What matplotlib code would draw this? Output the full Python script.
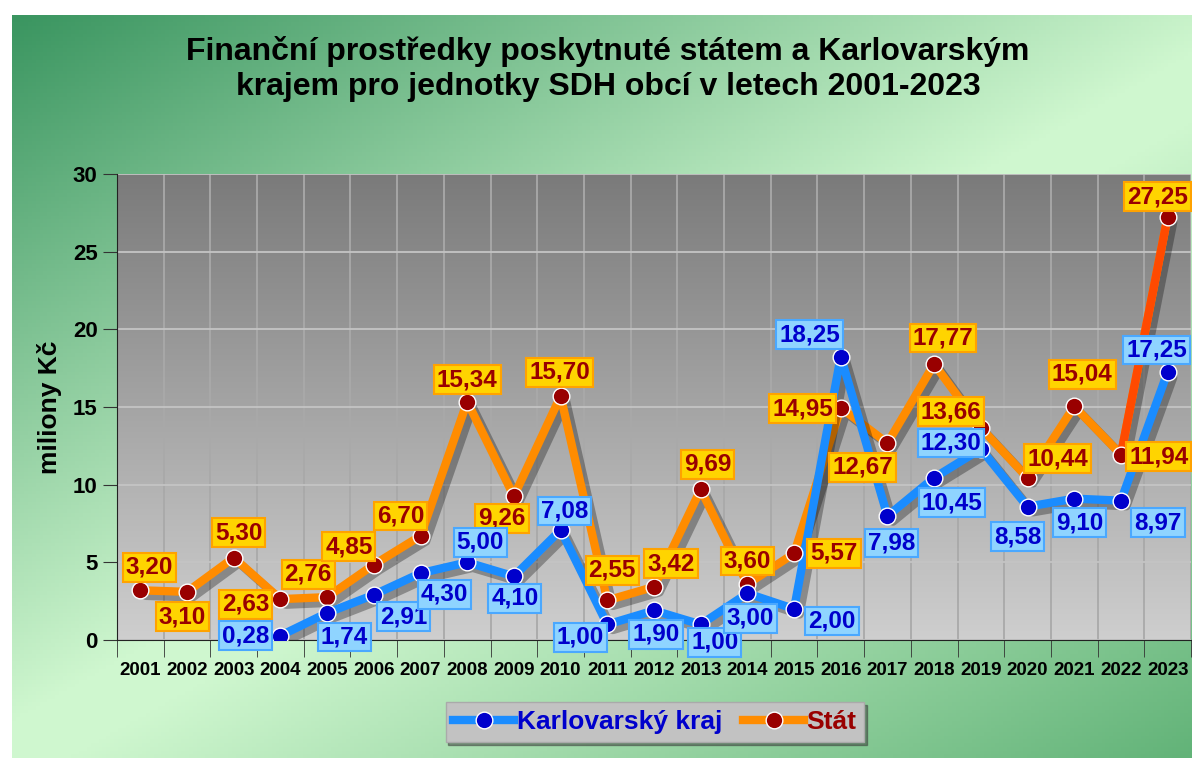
import numpy as np
import matplotlib
matplotlib.use("Agg")
from matplotlib import pyplot as plt
from matplotlib import patheffects as pe
from matplotlib.lines import Line2D

years = list(range(2001, 2024))
stat = [3.20, 3.10, 5.30, 2.63, 2.76, 4.85, 6.70, 15.34, 9.26, 15.70, 2.55, 3.42,
        9.69, 3.60, 5.57, 14.95, 12.67, 17.77, 13.66, 10.44, 15.04, 11.94, 27.25]
kv_years = list(range(2004, 2024))
kraj = [0.28, 1.74, 2.91, 4.30, 5.00, 4.10, 7.08, 1.00, 1.90, 1.00, 3.00, 2.00,
        18.25, 7.98, 10.45, 12.30, 8.58, 9.10, 8.97, 17.25]

# label offsets in pixels (dx, dy) from the point
stat_off = [(9, 23), (-5, -25), (5, 25), (-35, -5), (-19, 23), (-25, 18), (-20, 20),
            (0, 22), (-12, -22), (-1, 24), (5, 30), (17, 23), (7, 25), (0, 23),
            (40, 0), (-38, -1), (-25, -24), (9, 26), (-30, 16), (30, 19), (8, 32),
            (38, -2), (-10, 20)]
kraj_off = [(-35, 0), (17, -24), (30, -22), (24, -21), (13, 20), (1, -22), (4, 19),
            (-27, -13), (2, -24), (14, -18), (3, -25), (38, -12), (-31, 22), (4, -27),
            (18, -25), (-30, 6), (-10, -30), (5, -24), (37, -22), (-11, 22)]

W, H = 1192, 758
fig = plt.figure(figsize=(W / 100, H / 100), dpi=100, facecolor="white")

# green background
bg = fig.add_axes([12 / W, 0, 1 - 12 / W, 1 - 15 / H])
bg.set_axis_off()
xx, yy = np.meshgrid(np.linspace(0, 1, 300), np.linspace(0, 1, 200))
t = (xx * 0.9 + yy) / 1.9
dark_tl = np.array([0x3a, 0x95, 0x60]) / 255
light = np.array([0xcf, 0xf7, 0xcf]) / 255
dark_br = np.array([0x62, 0xb3, 0x78]) / 255
a = np.clip(t / 0.5, 0, 1)[..., None]
b = np.clip((t - 0.55) / 0.45, 0, 1)[..., None]
img = dark_tl + (light - dark_tl) * a
img = img + (dark_br - light) * b * (t[..., None] > 0.55)
bg.imshow(np.clip(img, 0, 1), aspect="auto", extent=(0, 1, 0, 1), origin="upper")
bg.set_xlim(0, 1)
bg.set_ylim(0, 1)

ax = fig.add_axes([117 / W, 118 / H, 1074 / W, 466 / H])
ax.set_xlim(2000.5, 2023.5)
ax.set_ylim(0, 30)
grad = np.linspace(0, 1, 256)[:, None]
gray = np.dstack([0.48 + 0.33 * grad] * 3)
ax.imshow(gray, aspect="auto", extent=(2000.5, 2023.5, 0, 30), origin="upper", zorder=0)
ax.patch.set_visible(False)

for s in ["top", "right"]:
    ax.spines[s].set_visible(False)
ax.spines["left"].set_color("#222222")
ax.spines["bottom"].set_color("#222222")

ax.set_yticks(range(0, 31, 5))
ax.set_xticks(years)
ax.set_xticks(np.arange(2000.5, 2024, 1), minor=True)
ax.tick_params(axis="x", which="major", length=0, pad=16)
ax.tick_params(axis="x", which="minor", length=12, color="#333333", direction="out")
ax.tick_params(axis="y", length=10, color="#333333", pad=4)
ax.grid(True, axis="y", color="#c4c4c4", lw=1.3, zorder=1)
ax.grid(True, axis="x", which="minor", color="#a9a9a9", lw=1.3, zorder=1)
ax.set_axisbelow(True)

ax.set_xticklabels([str(y) for y in years], family="Liberation Sans", weight="bold",
                   size=13.5)
ax.set_yticklabels([str(v) for v in range(0, 31, 5)], family="Liberation Sans",
                   weight="bold", size=16)
ax.set_ylabel("miliony Kč", fontsize=19, fontweight="bold", family="Liberation Sans",
              labelpad=8)

shadow = [pe.SimpleLineShadow(offset=(4, -4), shadow_color="k", alpha=0.3), pe.Normal()]
ax.plot(years, stat, color="#ff8c00", lw=6, zorder=3, solid_capstyle="round",
        path_effects=shadow)
ax.plot(years[-2:], stat[-2:], color="#ff4a00", lw=6, zorder=3, solid_capstyle="round")
ax.plot(kv_years, kraj, color="#1a8cff", lw=6, zorder=4, solid_capstyle="round",
        path_effects=shadow)
ax.plot(years, stat, ls="none", marker="o", ms=12, mfc="#990000", mec="white", mew=1,
        zorder=5)
ax.plot(kv_years, kraj, ls="none", marker="o", ms=12, mfc="#0000cc", mec="white", mew=1,
        zorder=6)

lab_font = dict(family="Liberation Sans", weight="bold", size=17.5)
for x, v, (dx, dy) in zip(years, stat, stat_off):
    ax.annotate(f"{v:.2f}".replace(".", ","), (x, v), xytext=(dx, dy),
                textcoords="offset pixels", ha="center", va="center", color="#990000",
                zorder=7, annotation_clip=False,
                bbox=dict(boxstyle="square,pad=0.12", fc="#ffd400", ec="#ffa200", lw=1.5),
                **lab_font)
for x, v, (dx, dy) in zip(kv_years, kraj, kraj_off):
    ax.annotate(f"{v:.2f}".replace(".", ","), (x, v), xytext=(dx, dy),
                textcoords="offset pixels", ha="center", va="center", color="#0000cc",
                zorder=8, annotation_clip=False,
                bbox=dict(boxstyle="square,pad=0.12", fc="#8fd4ff", ec="#4aa8ff", lw=1.5),
                **lab_font)

fig.text(0.51, 1 - 69 / H, "Finanční prostředky poskytnuté státem a Karlovarským\n"
         "krajem pro jednotky SDH obcí v letech 2001-2023", ha="center", va="center",
         fontsize=23, fontweight="bold", family="Liberation Sans", linespacing=1.2)

handles = [
    Line2D([], [], color="#1a8cff", lw=6, marker="o", ms=12, mfc="#0000cc", mec="white"),
    Line2D([], [], color="#ff8c00", lw=6, marker="o", ms=12, mfc="#990000", mec="white"),
]
leg = fig.legend(handles, ["Karlovarský kraj", "Stát"], loc="center",
                 bbox_to_anchor=(655 / W, 1 - 722 / H), ncol=2, frameon=True,
                 fancybox=False, shadow=True, facecolor="#c2c2c2", edgecolor="#aaaaaa",
                 prop=dict(family="Liberation Sans", weight="bold", size=19),
                 handlelength=2.3, columnspacing=0.8, handletextpad=0.1,
                 borderpad=0.3, framealpha=1)
leg.get_texts()[0].set_color("#0000cc")
leg.get_texts()[1].set_color("#990000")

fig.savefig("out.png", dpi=100, facecolor="white")
